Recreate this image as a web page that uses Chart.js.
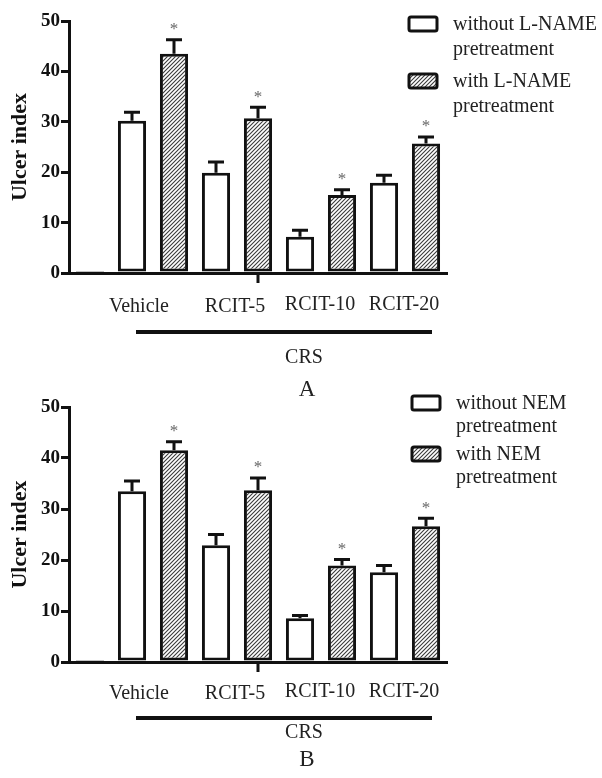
<!DOCTYPE html>
<html>
<head>
<meta charset="utf-8">
<script src="https://cdn.jsdelivr.net/npm/chart.js@4.4.1/dist/chart.umd.min.js"></script>
<style>
    body { margin: 0; background: #fff; width: 602px; height: 778px; position: relative; overflow: hidden; }
    canvas { position: absolute; left: 0; }
    #graficaA { top: 0; }
    #graficaB { top: 390px; }
</style>
</head>
<body>
<canvas id="graficaA" width="602" height="400"></canvas>
<canvas id="graficaB" width="602" height="388"></canvas>
<script>
// grupos bajo la linea CRS
const grupos = ['Vehicle', 'RCIT-5', 'RCIT-10', 'RCIT-20'];
const yTicks = [0, 10, 20, 30, 40, 50];

// panel A (L-NAME)
const normalA = 0.2;
const sinA = [30.2, 19.9, 7.2, 17.9];
const sinErrA = [1.7, 2.1, 1.3, 1.5];
const conA = [43.5, 30.7, 15.5, 25.7];
const conErrA = [2.8, 2.2, 1.0, 1.3];

// panel B (NEM)
const normalB = 0.2;
const sinB = [33.5, 22.9, 8.6, 17.6];
const sinErrB = [2.0, 2.1, 0.5, 1.3];
const conB = [41.5, 33.7, 18.9, 26.6];
const conErrB = [1.7, 2.4, 1.2, 1.6];

const serif = '"Liberation Serif", "Times New Roman", serif';

function rayado() {
    const c = document.createElement('canvas');
    c.width = 4; c.height = 4;
    const g = c.getContext('2d');
    g.fillStyle = '#fff';
    g.fillRect(0, 0, 4, 4);
    g.strokeStyle = '#3a3a3a';
    g.lineWidth = 1.1;
    g.beginPath();
    g.moveTo(-1, 5); g.lineTo(5, -1);
    g.moveTo(-1, 1); g.lineTo(1, -1);
    g.moveTo(3, 5); g.lineTo(5, 3);
    g.stroke();
    return g.createPattern(c, 'repeat');
}
const patron = rayado();

// 9 posiciones: normal + (sin, con) por grupo
function armarDatos(normal, sin, sinErr, con, conErr) {
    const etiquetas = ['Normal'];
    const dSin = [normal], eSin = [0];
    const dCon = [null], eCon = [0];
    grupos.forEach((g, i) => {
        etiquetas.push(g + ' sin', g + ' con');
        dSin.push(sin[i], null); eSin.push(sinErr[i], 0);
        dCon.push(null, con[i]); eCon.push(0, conErr[i]);
    });
    return { etiquetas, dSin, eSin, dCon, eCon };
}

const decorar = {
    id: 'decorar',
    afterDatasetsDraw(chart, args, op) {
        const ctx = chart.ctx;
        const x = chart.scales.x, y = chart.scales.y;
        const area = chart.chartArea;
        ctx.save();
        ctx.strokeStyle = '#111';
        ctx.lineWidth = 3;
        // barras de error y asteriscos
        chart.data.datasets.forEach((ds, i) => {
            chart.getDatasetMeta(i).data.forEach((bar, j) => {
                const v = ds.data[j];
                if (v == null || !ds.errores[j]) return;
                const yTop = y.getPixelForValue(v + ds.errores[j]);
                ctx.beginPath();
                ctx.moveTo(bar.x, bar.y);
                ctx.lineTo(bar.x, yTop);
                ctx.moveTo(bar.x - 8, yTop);
                ctx.lineTo(bar.x + 8, yTop);
                ctx.stroke();
                if (ds.asterisco) {
                    ctx.fillStyle = '#666';
                    ctx.font = '17px ' + serif;
                    ctx.textAlign = 'center';
                    ctx.textBaseline = 'middle';
                    ctx.fillText('*', bar.x, yTop - 10);
                }
            });
        });
        // marca suelta bajo RCIT-5
        const xm = x.getPixelForValue(4);
        ctx.beginPath();
        ctx.moveTo(xm, area.bottom);
        ctx.lineTo(xm, area.bottom + 10);
        ctx.stroke();

        // nombres de grupos
        ctx.fillStyle = '#222';
        ctx.font = '20px ' + serif;
        ctx.textAlign = 'center';
        ctx.textBaseline = 'middle';
        const ajuste = [-14, -2, -1, -1];
        grupos.forEach((g, i) => {
            const cx = (x.getPixelForValue(1 + 2 * i) + x.getPixelForValue(2 + 2 * i)) / 2 + ajuste[i];
            ctx.fillText(g, cx, area.bottom + (i < 2 ? op.etiquetaY : op.etiquetaY - 2));
        });
        // linea CRS
        ctx.lineWidth = 4;
        ctx.beginPath();
        ctx.moveTo(x.getPixelForValue(1) + 4, area.bottom + op.lineaY);
        ctx.lineTo(x.getPixelForValue(8) + 6, area.bottom + op.lineaY);
        ctx.stroke();
        ctx.fillText('CRS', 304, area.bottom + op.crsY);
        ctx.font = '23px ' + serif;
        ctx.fillText(op.letra, 307, area.bottom + op.letraY);

        // leyenda
        ctx.textAlign = 'left';
        ctx.font = '20px ' + serif;
        chart.data.datasets.forEach((ds, i) => {
            const top = op.leyendaY[i];
            ctx.fillStyle = ds.backgroundColor;
            ctx.lineWidth = 3;
            ctx.beginPath();
            ctx.roundRect(op.leyendaX, top, 28, 14, 2);
            ctx.fill();
            ctx.stroke();
            ctx.fillStyle = '#222';
            ctx.fillText(op.leyenda[i][0], op.leyendaX + 44, top + 8);
            ctx.fillText(op.leyenda[i][1], op.leyendaX + 44, top + 8 + op.salto);
        });
        ctx.restore();
    }
};

function crearGrafica(id, d, panel, padTop, padBottom) {
    const ctx = document.getElementById(id).getContext('2d');
    return new Chart(ctx, {
        type: 'bar',
        data: {
            labels: d.etiquetas,
            datasets: [
                { label: 'sin', data: d.dSin, errores: d.eSin, asterisco: false,
                  backgroundColor: '#fff', borderColor: '#111', borderWidth: 3, borderSkipped: false },
                { label: 'con', data: d.dCon, errores: d.eCon, asterisco: true,
                  backgroundColor: patron, borderColor: '#111', borderWidth: 3, borderSkipped: false }
            ]
        },
        options: {
            responsive: false,
            animation: false,
            events: [],
            layout: { padding: { left: 0, top: padTop, right: 155, bottom: padBottom } },
            datasets: { bar: { skipNull: true, categoryPercentage: 1, barPercentage: 0.67 } },
            scales: {
                x: {
                    grid: { display: false },
                    ticks: { display: false },
                    border: { color: '#111', width: 3 },
                    afterFit: s => { s.height = 0; }
                },
                y: {
                    min: 0, max: 50,
                    afterBuildTicks: s => { s.ticks = yTicks.map(v => ({ value: v })); },
                    afterFit: s => { s.width = 69; },
                    grid: { drawOnChartArea: false, color: '#111', lineWidth: 3, tickLength: 8 },
                    border: { color: '#111', width: 3 },
                    ticks: { color: '#111', padding: 1, font: { family: serif, size: 19, weight: 'bold' } },
                    title: {
                        display: true, text: 'Ulcer index', color: '#111',
                        padding: { top: 7, bottom: 0 },
                        font: { family: serif, size: 22, weight: 'bold' }
                    }
                }
            },
            plugins: {
                legend: { display: false },
                tooltip: { enabled: false },
                decorar: panel
            }
        },
        plugins: [decorar]
    });
}

crearGrafica('graficaA', armarDatos(normalA, sinA, sinErrA, conA, conErrA), {
    letra: 'A', etiquetaY: 34, lineaY: 59, crsY: 85, letraY: 117,
    leyenda: [['without L-NAME', 'pretreatment'], ['with L-NAME', 'pretreatment']],
    leyendaX: 409, leyendaY: [17, 74], salto: 25
}, 21, 127);

crearGrafica('graficaB', armarDatos(normalB, sinB, sinErrB, conB, conErrB), {
    letra: 'B', etiquetaY: 32, lineaY: 56, crsY: 71, letraY: 98,
    leyenda: [['without NEM', 'pretreatment'], ['with NEM', 'pretreatment']],
    leyendaX: 412, leyendaY: [6, 57], salto: 23
}, 17, 116);
</script>
</body>
</html>
